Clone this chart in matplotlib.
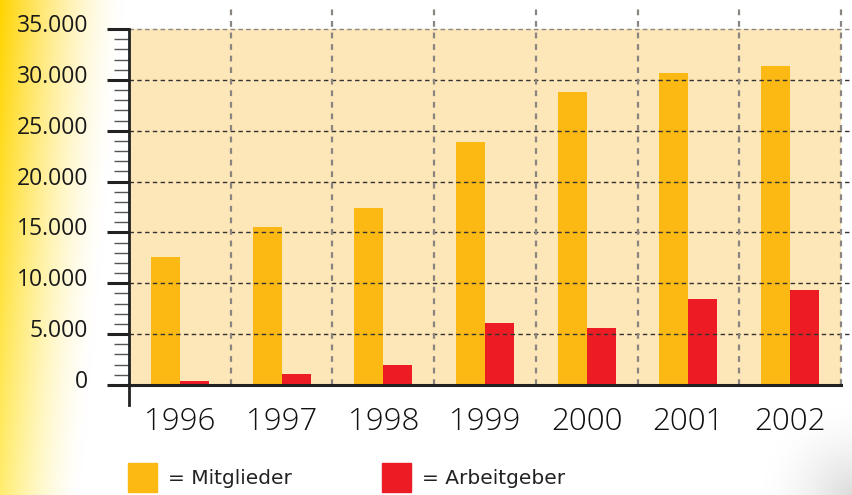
import matplotlib
matplotlib.use("Agg")
import matplotlib.pyplot as plt
import matplotlib.transforms as mtransforms
from matplotlib.patches import Rectangle
import numpy as np

# Daten
jahre = ["1996", "1997", "1998", "1999", "2000", "2001", "2002"]
mitglieder = [12600, 15500, 17450, 23850, 28850, 30700, 31400]
arbeitgeber = [400, 1080, 1970, 6080, 5600, 8500, 9300]
serien = ["= Mitglieder", "= Arbeitgeber"]
farben = ["#FDB913", "#ED1C24"]

W, H, DPI = 852, 495, 100
fig = plt.figure(figsize=(W / DPI, H / DPI), dpi=DPI)

# Hintergrund: gelber Verlauf links, grauer Schatten unten rechts
yy, xx = np.mgrid[0:H, 0:W].astype(float)
breite = 125 - 45 * yy / H
a = np.clip(1 - xx / breite, 0, 1) ** 1.5
gelb_g = 212 + 25 * yy / H
gelb_b = 0 + 110 * yy / H
img = np.ones((H, W, 3))
img[..., 1] = 1 - a * (1 - gelb_g / 255)
img[..., 2] = 1 - a * (1 - gelb_b / 255)
d = np.hypot((xx - W) / 90, (yy - H) / 90)
g = np.clip(1 - d, 0, 1) ** 1.5 * 0.14
img = img * (1 - g[..., None])
bg = fig.add_axes([0, 0, 1, 1], zorder=-5)
bg.imshow(img, aspect="auto", interpolation="bilinear")
bg.axis("off")

# Diagrammbereich
ax = fig.add_axes([129 / W, 1 - 385 / H, 712 / W, 356 / H])
ax.set_facecolor("#FDE6B8")
x = np.arange(len(jahre))
w = 0.285
ax.bar(x - w / 2, mitglieder, w, color=farben[0], zorder=3)
ax.bar(x + w / 2, arbeitgeber, w, color=farben[1], zorder=3)

ax.set_xlim(-0.5, len(jahre) - 0.5)
ax.set_ylim(0, 35000)

# Gitterlinien (über den Rand hinaus)
for yv in range(5000, 35001, 5000):
    col = "#8a8580" if yv == 35000 else "#333333"
    ax.axhline(yv, xmin=0, xmax=(W - 129) / 712, color=col, lw=1.0,
               ls=(0, (3.2, 2.4)), clip_on=False, zorder=4)
for xb in np.arange(0.5, len(jahre), 1):
    ax.axvline(xb, ymin=0, ymax=(385 - 7) / 356, color="#8a8580", lw=1.6,
               ls=(0, (2.6, 2.6)), clip_on=False, zorder=4)

# Achsen
for s in ["top", "right"]:
    ax.spines[s].set_visible(False)
ax.spines["left"].set_linewidth(2.0)
ax.spines["bottom"].set_linewidth(2.2)
ax.spines["left"].set_color("#222222")
ax.spines["bottom"].set_color("#222222")
ax.spines["left"].set_zorder(5)
ax.spines["bottom"].set_zorder(5)
ax.axvline(-0.5, ymin=-20 / 356, ymax=0, color="#222222", lw=2.0,
           clip_on=False)

ax.set_yticks(np.arange(0, 35001, 5000))
ax.set_yticks(np.arange(0, 35001, 1000), minor=True)
ax.yaxis.set_major_formatter(
    matplotlib.ticker.FuncFormatter(lambda v, p: f"{v:,.0f}".replace(",", ".")))
ax.tick_params(axis="y", which="major", length=16, width=2.2, color="#222222",
               pad=13.5, labelsize=16.5, labelcolor="#1a1a1a")
ax.tick_params(axis="y", which="minor", length=11, width=1.0, color="#555555")
for lab in ax.get_yticklabels():
    lab.set_fontfamily("Open Sans")
    lab.set_transform(lab.get_transform() +
                      mtransforms.ScaledTranslation(0, 6 / DPI, fig.dpi_scale_trans))

ax.set_xticks(x, jahre)
ax.tick_params(axis="x", length=0, pad=15, labelsize=22.5, labelcolor="#111111")
for lab in ax.get_xticklabels():
    lab.set_fontfamily("Open Sans")
    lab.set_fontweight("light")

# Legende
leg_x = [128, 382]
for lx, txt, col in zip(leg_x, serien, farben):
    fig.add_artist(Rectangle((lx / W, 1 - 492 / H), 29 / W, 29 / H,
                             transform=fig.transFigure, color=col))
    fig.text((lx + 40) / W, 1 - 478 / H, txt, fontsize=14.5,
             family="DejaVu Sans", color="#222222", va="center")

fig.savefig("out.png", dpi=DPI)
